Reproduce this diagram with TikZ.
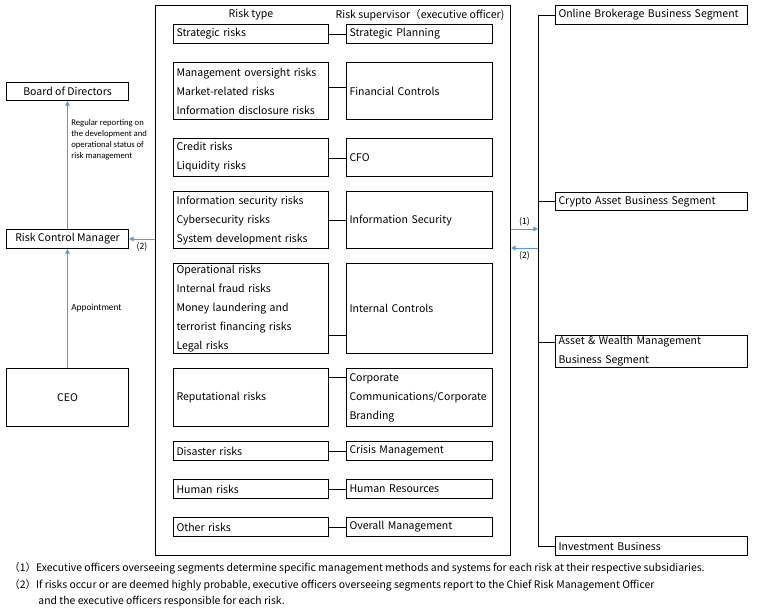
\documentclass[tikz,border=0pt]{standalone}
\usepackage{fontspec}
\setmainfont{Noto Sans CJK JP}
\newfontfamily\calibrifont{Carlito}
\usetikzlibrary{arrows.meta}
\definecolor{flowblue}{HTML}{5B9BD5}

\begin{document}
\begin{tikzpicture}[x=0.75pt,y=-0.75pt,line width=0.75pt,
	every node/.style={font=\fontsize{7.9pt}{14.25pt}\selectfont},
	riskbox/.style={draw,anchor=north west,align=left,inner xsep=2.25pt,inner ysep=0pt,text width=111.75pt},
	supbox/.style={riskbox,text width=105pt},
	segbox/.style={riskbox,text width=139.5pt},
	leftbox/.style={draw,anchor=north west,inner sep=0pt,minimum width=91.5pt},
	flow/.style={draw=flowblue,-{Triangle[length=3.5pt,width=3.5pt]}},
	remark/.style={font=\calibrifont\fontsize{6.5pt}{8.25pt}\selectfont,align=left,inner sep=2.5pt},
	mark label/.style={font=\fontsize{6.5pt}{8pt}\selectfont,inner sep=2pt},
	notes/.style={anchor=west,inner sep=0pt,font=\fontsize{7.8pt}{9pt}\selectfont}]
	\useasboundingbox (0,0) rectangle (757,611);

	% risk framework
	\node[draw,anchor=north west,inner sep=0pt,minimum width=266.25pt,minimum height=412.5pt] (frame) at (155,5) {};
	\node (typehead) at (251,15) {Risk type};
	\node (suphead) at (420,15) {Risk supervisor（executive officer)};

	\node[riskbox,minimum height=14.25pt] (r1) at (173,24) {Strategic risks};
	\node[supbox,minimum height=14.25pt] (s1) at (346,24) {Strategic Planning};
	\node[riskbox,minimum height=42.75pt] (r2) at (173,62) {Management oversight risks\\Market-related risks\\Information disclosure risks};
	\node[supbox,minimum height=42.75pt] (s2) at (346,62) {Financial Controls};
	\node[riskbox,minimum height=28.5pt] (r3) at (173,138) {Credit risks\\Liquidity risks};
	\node[supbox,minimum height=28.5pt] (s3) at (346,138) {CFO};
	\node[riskbox,minimum height=42.75pt] (r4) at (173,191) {Information security risks\\Cybersecurity risks\\System development risks};
	\node[supbox,minimum height=42.75pt] (s4) at (346,191) {Information Security};
	\node[riskbox,minimum height=67.5pt] (r5) at (173,263) {Operational risks\\Internal fraud risks\\Money laundering and\\terrorist financing risks\\Legal risks};
	\node[supbox,minimum height=67.5pt] (s5) at (346,263) {Internal Controls};
	\node[riskbox,minimum height=43.5pt] (r6) at (173,368) {Reputational risks};
	\node[supbox,minimum height=43.5pt] (s6) at (346,368) {Corporate\\Communications/Corporate\\Branding};
	\node[riskbox,minimum height=14.25pt] (r7) at (173,441) {Disaster risks};
	\node[supbox,minimum height=14.25pt] (s7) at (346,441) {Crisis Management};
	\node[riskbox,minimum height=14.25pt] (r8) at (173,479) {Human risks};
	\node[supbox,minimum height=14.25pt] (s8) at (346,479) {Human Resources};
	\node[riskbox,minimum height=14.25pt] (r9) at (173,517) {Other risks};
	\node[supbox,minimum height=14.25pt] (s9) at (346,517) {Overall Management};

	\foreach \i/\dy in {1/0,2/2.5,3/-0.75,4/0,5/-20.25,6/15,7/0,8/0,9/0}
		\draw ([yshift=\dy pt]r\i.east) -- ([yshift=\dy pt]s\i.west);

	% left side
	\node[leftbox,minimum height=13.5pt] (board) at (6,82) {Board of Directors};
	\node[leftbox,minimum height=14.25pt] (rcm) at (6,229) {Risk Control Manager};
	\node[leftbox,minimum height=43.5pt] (ceo) at (6,368) {CEO};

	\draw[flow] (rcm.north) -- node[remark,pos=0.7,right] {Regular reporting on\\the development and\\operational status of\\risk management} (board.south);
	\draw[flow] (ceo.north) -- node[remark,right,font=\calibrifont\fontsize{7pt}{8.25pt}\selectfont] {Appointment} (rcm.south);
	\draw[flow] (frame.west |- rcm.east) -- node[mark label,below] {(2)} (rcm.east);

	% segments
	\node[segbox,minimum height=14.25pt] (seg1) at (555,5) {Online Brokerage Business Segment};
	\node[segbox,minimum height=13.5pt] (seg2) at (555,192) {Crypto Asset Business Segment};
	\node[segbox,minimum height=24pt] (seg3) at (555,335) {Asset \& Wealth Management\\Business Segment};
	\node[segbox,minimum height=14.25pt] (seg4) at (555,536) {Investment Business};

	\coordinate (bus) at (538,0);
	\coordinate (seg3in) at ([yshift=6.75pt]seg3.west);
	\draw (seg1.west) -| (bus |- seg4.west) -- (seg4.west);
	\draw (seg2.west) -- (bus |- seg2.west);
	\draw (seg3in) -- (bus |- seg3in);

	\coordinate (down1) at (0,229);
	\coordinate (up2) at (0,248);
	\draw[flow] (frame.east |- down1) -- node[mark label,above] {(1)} (bus |- down1);
	\draw[flow] (bus |- up2) -- node[mark label,below] {(2)} (frame.east |- up2);

	% notes
	\node[notes] (note1) at (9,568) {（1）Executive officers overseeing segments determine specific management methods and systems for each risk at their respective subsidiaries.};
	\node[notes] (note2) at (9,585) {（2）If risks occur or are deemed highly probable, executive officers overseeing segments report to the Chief Risk Management Officer};
	\node[notes] (note3) at (38,601) {and the executive officers responsible for each risk.};
\end{tikzpicture}
\end{document}
